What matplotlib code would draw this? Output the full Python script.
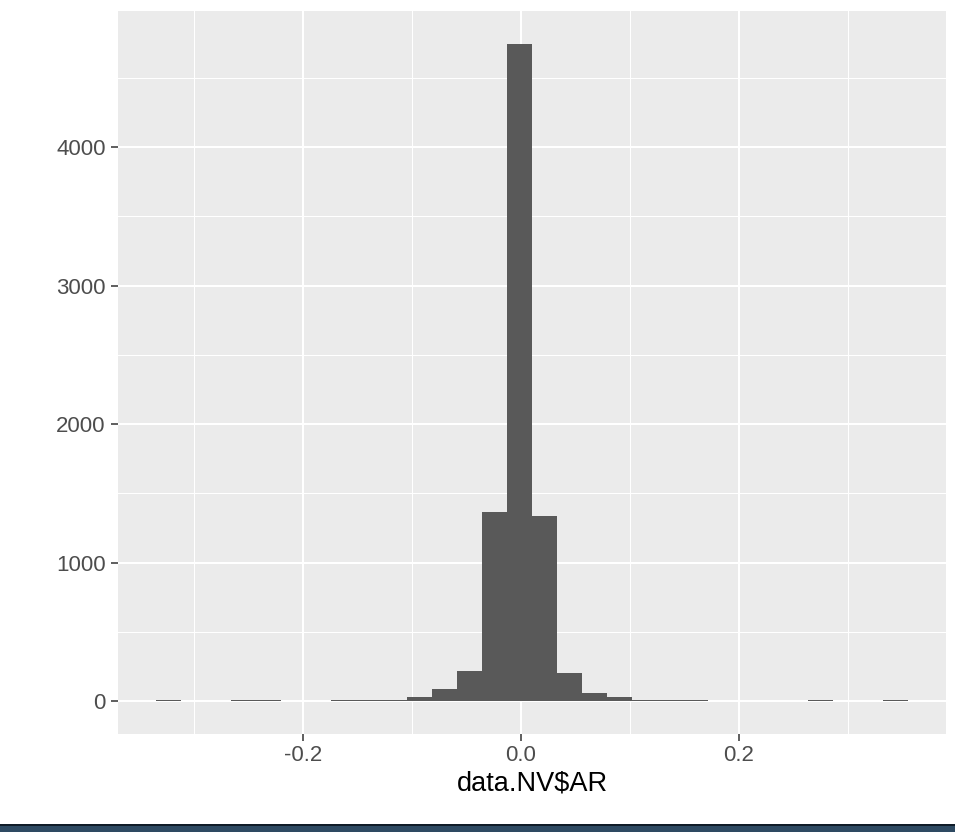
import matplotlib
matplotlib.use("Agg")
import matplotlib.pyplot as plt
from matplotlib.patches import Rectangle
import numpy as np

# Histogram bin edges (30 bins) and counts
bin_edges = [-0.3352, -0.3122, -0.2892, -0.2661, -0.2431, -0.2201, -0.1971,
             -0.1741, -0.1510, -0.1280, -0.1050, -0.0820, -0.0590, -0.0359,
             -0.0129, 0.0101, 0.0331, 0.0561, 0.0792, 0.1022, 0.1252, 0.1482,
             0.1712, 0.1943, 0.2173, 0.2403, 0.2633, 0.2863, 0.3094, 0.3324,
             0.3554]
counts = [8, 0, 0, 8, 8, 0, 0, 8, 8, 8, 27, 86, 218, 1363, 4745, 1338, 206,
          62, 31, 10, 10, 10, 0, 0, 0, 0, 8, 0, 0, 8]

x_major = [-0.2, 0.0, 0.2]
x_major_labels = ["-0.2", "0.0", "0.2"]
x_minor = [-0.3, -0.1, 0.1, 0.3]
y_major = [0, 1000, 2000, 3000, 4000]
y_minor = [500, 1500, 2500, 3500, 4500]
x_title = "data.NV$AR"

plt.rcParams['font.family'] = ['Liberation Sans', 'DejaVu Sans']

W, H = 955, 832
fig = plt.figure(figsize=(W / 100, H / 100), dpi=100)
fig.patch.set_facecolor('white')
ax = fig.add_axes([118 / W, (H - 734) / H, (946 - 118) / W, (734 - 11) / H])
ax.set_facecolor('#EBEBEB')

edges = np.array(bin_edges)
ax.bar(edges[:-1], counts, width=np.diff(edges), align='edge',
       color='#595959', linewidth=0, zorder=3)

span = edges[-1] - edges[0]
ax.set_xlim(edges[0] - 0.05 * span, edges[-1] + 0.05 * span)
ymax = max(counts)
ax.set_ylim(-0.05 * ymax, 1.05 * ymax)

ax.set_xticks(x_major)
ax.set_xticklabels(x_major_labels)
ax.set_xticks(x_minor, minor=True)
ax.set_yticks(y_major)
ax.set_yticklabels([str(v) for v in y_major])
ax.set_yticks(y_minor, minor=True)

ax.grid(which='major', color='white', linewidth=1.45, zorder=1)
ax.grid(which='minor', color='white', linewidth=0.75, zorder=1)
ax.set_axisbelow(True)

for s in ax.spines.values():
    s.set_visible(False)

ax.tick_params(axis='both', which='major', length=5, width=1.1,
               color='#333333', labelcolor='#4D4D4D', labelsize=16, pad=4)
ax.tick_params(axis='x', which='major', pad=3)
ax.tick_params(axis='both', which='minor', length=0)

ax.set_xlabel(x_title, fontsize=19.5, color='black', labelpad=3)

# dark band at the bottom of the image
fig.add_artist(Rectangle((0, 0), 1, 7 / H, transform=fig.transFigure,
                         facecolor='#2E4A62', edgecolor='none'))
fig.add_artist(Rectangle((0, 6 / H), 1, 2 / H, transform=fig.transFigure,
                         facecolor='#101C28', edgecolor='none'))

fig.savefig('out.png', dpi=100, facecolor='white')
